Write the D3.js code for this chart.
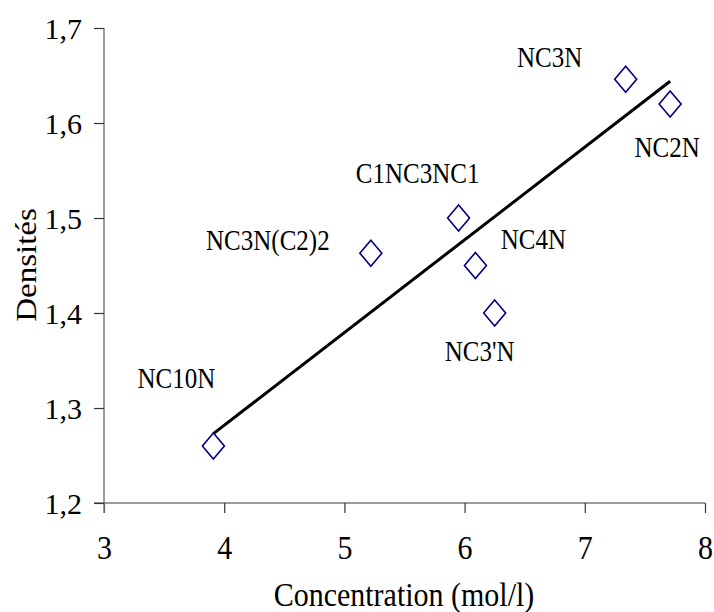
<!DOCTYPE html>
<html><head><meta charset="utf-8">
<script src="https://cdn.jsdelivr.net/npm/d3@7/dist/d3.min.js"></script>
<style>html,body{margin:0;padding:0;background:#fff;}</style>
</head><body>
<svg id="c" width="714" height="612"></svg>
<script>
const names = ["NC10N","NC3N(C2)2","C1NC3NC1","NC4N","NC3'N","NC3N","NC2N"];
const concentration = [3.91, 5.22, 5.95, 6.09, 6.25, 7.34, 7.71];
const density = [1.26, 1.463, 1.50, 1.45, 1.40, 1.646, 1.62];
const trendX = [3.91, 7.71];
const trendY = [1.273, 1.644];
const xTicks = [3,4,5,6,7,8];
const yTicks = [1.2,1.3,1.4,1.5,1.6,1.7];
const yTickLabels = ["1,2","1,3","1,4","1,5","1,6","1,7"];

// label offsets in pixels (layout, not data)
const labelOffsets = [[-37,-58],[-103,-3],[-41,-35],[58,-17],[-15,48],[-76,-12],[-3,53]];

const FONT = "Liberation Serif";
const svg = d3.select("#c");
const x = d3.scaleLinear().domain([3,8]).range([104,705]);
const y = d3.scaleLinear().domain([1.2,1.7]).range([503,28]);

const axisColor = "#7a7a7a";
// x axis
const gx = svg.append("g").attr("transform","translate(0,503)")
  .call(d3.axisBottom(x).tickValues(xTicks).tickSize(10).tickFormat(d3.format("d")));
gx.attr("font-family",null).attr("font-size",null);
gx.select(".domain").attr("stroke",axisColor).attr("stroke-width",1.5).attr("d","M94,0H705");
gx.selectAll(".tick line").attr("stroke","#333").attr("stroke-width",1.2);
gx.selectAll(".tick text").style("font-family",FONT).attr("font-size",30).attr("fill","#000")
  .attr("y",0).attr("dy",0).attr("transform","translate(0,56) scale(1,1.1)");

// y axis
const gy = svg.append("g").attr("transform","translate(104,0)")
  .call(d3.axisLeft(y).tickValues(yTicks).tickSize(10).tickFormat((d,i)=>yTickLabels[i]));
gy.attr("font-family",null).attr("font-size",null);
gy.select(".domain").attr("stroke",axisColor).attr("stroke-width",1.5).attr("d","M0,28V513");
gy.selectAll(".tick line").attr("stroke","#333").attr("stroke-width",1.2);
gy.selectAll(".tick text").style("font-family",FONT).attr("font-size",30).attr("fill","#000")
  .attr("x",-22).attr("dy","0.35em");

// trend line
svg.append("path")
  .datum(trendX.map((d,i)=>[d,trendY[i]]))
  .attr("d", d3.line().x(d=>x(d[0])).y(d=>y(d[1])))
  .attr("stroke","#000").attr("stroke-width",3).attr("fill","none");

// diamonds
const pts = names.map((n,i)=>({n, cx:concentration[i], cy:density[i], off:labelOffsets[i]}));
const hw = 11, hh = 13;
svg.append("g").selectAll("path").data(pts).join("path")
  .attr("transform", d=>`translate(${x(d.cx)},${y(d.cy)})`)
  .attr("d", `M0,${-hh}L${hw},0L0,${hh}L${-hw},0Z`)
  .attr("fill","none").attr("stroke","#000080").attr("stroke-width",1.6);

// labels
svg.append("g").selectAll("text").data(pts).join("text")
  .attr("transform", d=>`translate(${x(d.cx)+d.off[0]},${y(d.cy)+d.off[1]}) scale(1,1.15)`)
  .attr("text-anchor","middle")
  .style("font-family",FONT).attr("font-size",25).attr("fill","#000")
  .text(d=>d.n);

// axis titles
svg.append("text").attr("transform","translate(404,606) scale(1,1.1)")
  .attr("text-anchor","middle").style("font-family",FONT).attr("font-size",30)
  .text("Concentration (mol/l)");
svg.append("text").attr("transform","translate(36,265) rotate(-90) scale(1.1,1)")
  .attr("text-anchor","middle").style("font-family",FONT).attr("font-size",30)
  .text("Densités");
</script>
</body></html>
